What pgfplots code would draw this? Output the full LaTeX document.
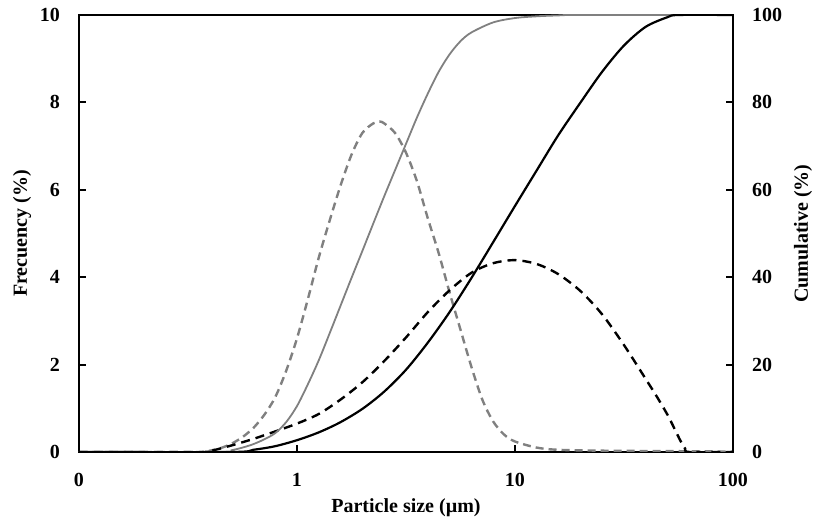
\documentclass[border=0pt]{standalone}
\usepackage{fontspec}
\setmainfont{Liberation Serif}
\usepackage{pgfplots}
\pgfplotsset{compat=1.18}
\tikzset{
  fine/.style={gray, line width=1.2pt, dash pattern=on 4pt off 2.5pt, smooth, tension=0.5},
  coarse/.style={black, line width=1.2pt, dash pattern=on 4.5pt off 3pt, smooth, tension=0.5},
}

\begin{document}
\begin{tikzpicture}
\useasboundingbox (-39.5pt,-35pt) rectangle (368pt,226pt);

% frequency (left axis)
\begin{axis}[
  scale only axis, width=327pt, height=218.5pt,
  xmode=log, xmin=0.1, xmax=100, xminorticks=false,
  tick align=inside, major tick length=3.5pt,
  tick label style={font=\bfseries},
  /pgf/number format/assume math mode=true,
  axis line style={line width=1.1pt},
  every tick/.style={line width=1pt, black},
  ymin=0, ymax=10, ytick={0,2,...,10},
  xtick={0.1,1,10,100}, xticklabels={0,1,10,100},
  xtick pos=bottom, ytick pos=left,
  xticklabel style={yshift=-7pt},
  yticklabel style={xshift=-6pt},
  xlabel={Particle size (µm)},
  ylabel={Frecuency (\%)},
  every axis x label/.style={at={(axis description cs:0.5,-0.128)}, anchor=center, font=\bfseries},
  every axis y label/.style={at={(axis description cs:-0.087,0.5)}, anchor=center, rotate=90, font=\bfseries},
]
% fine sample, frequency
\addplot[fine] coordinates {
  (0.1,0)(0.355,0)(0.398,0.03)(0.447,0.09)(0.501,0.19)(0.562,0.34)(0.631,0.55)
  (0.708,0.85)(0.794,1.25)(0.891,1.85)(1,2.6)(1.122,3.5)(1.259,4.45)
  (1.413,5.3)(1.585,6.1)(1.778,6.8)(1.995,7.3)(2.239,7.52)(2.4,7.56)
  (2.512,7.52)(2.818,7.3)(3.162,6.85)(3.548,6.2)(3.981,5.35)(4.467,4.55)
  (5.012,3.65)(5.623,2.8)(6.31,1.95)(7.08,1.2)(7.94,0.7)(8.91,0.4)(10,0.24)
  (12.6,0.1)(15.8,0.05)(25.1,0.03)(50.1,0.02)(100,0.01)};
% coarse sample, frequency
\addplot[coarse] coordinates {
  (0.1,0)(0.355,0)(0.398,0.02)(0.501,0.15)(0.631,0.3)(0.794,0.47)(1,0.65)
  (1.259,0.87)(1.585,1.2)(2,1.6)(2.512,2.08)(3.162,2.62)(3.981,3.2)
  (5.012,3.7)(6.31,4.1)(7.94,4.32)(10,4.39)(12.6,4.3)(15.8,4.07)(20,3.68)
  (25.1,3.15)(31.6,2.45)(39.8,1.67)(44.7,1.27)(50.1,0.85)(53.7,0.55)
  (57.5,0.25)(60.3,0.08)(63.1,0)(100,0)};
\end{axis}

% cumulative (right axis)
\begin{axis}[
  scale only axis, width=327pt, height=218.5pt,
  xmode=log, xmin=0.1, xmax=100, xminorticks=false,
  tick align=inside, major tick length=3.5pt,
  tick label style={font=\bfseries},
  /pgf/number format/assume math mode=true,
  axis line style={line width=1.1pt},
  every tick/.style={line width=1pt, black},
  ymin=0, ymax=100, ytick={0,20,...,100},
  axis x line=none, axis y line*=right,
  yticklabel style={xshift=6pt},
  ylabel={Cumulative (\%)},
  every axis y label/.style={at={(axis description cs:1.107,0.5)}, anchor=center, rotate=90, font=\bfseries},
]
% fine sample, cumulative
\addplot[gray, line width=0.9pt, smooth, tension=0.5] coordinates {
  (0.1,0)(0.447,0)(0.501,0.4)(0.562,1)(0.631,1.8)(0.708,2.9)(0.794,4.3)
  (0.891,6.8)(1,10.5)(1.122,15.5)(1.259,21)(1.413,27.2)(1.585,33.5)
  (1.778,39.8)(1.995,46)(2.239,52.3)(2.512,58.5)(2.818,64.5)(3.162,70.5)
  (3.548,76.5)(3.981,82)(4.467,87)(5.012,91)(5.623,94)(6.31,96)(7.94,98.3)
  (10,99.3)(12.6,99.7)(15.8,99.9)(20,100)(100,100)};
% coarse sample, cumulative
\addplot[black, line width=1.1pt, smooth, tension=0.5] coordinates {
  (0.1,0)(0.5,0)(0.63,0.5)(0.79,1.3)(1,2.7)(1.26,4.5)(1.58,6.8)(2,9.9)
  (2.51,13.8)(3.16,18.8)(3.98,25)(5.01,32)(6.31,39.8)(7.94,48)(10,56.3)
  (12.6,64.5)(15.8,72.5)(20,80)(25.1,87)(31.6,93)(39.8,97.3)(50.1,99.5)
  (56.2,100)(100,100)};
\end{axis}
\end{tikzpicture}
\end{document}
